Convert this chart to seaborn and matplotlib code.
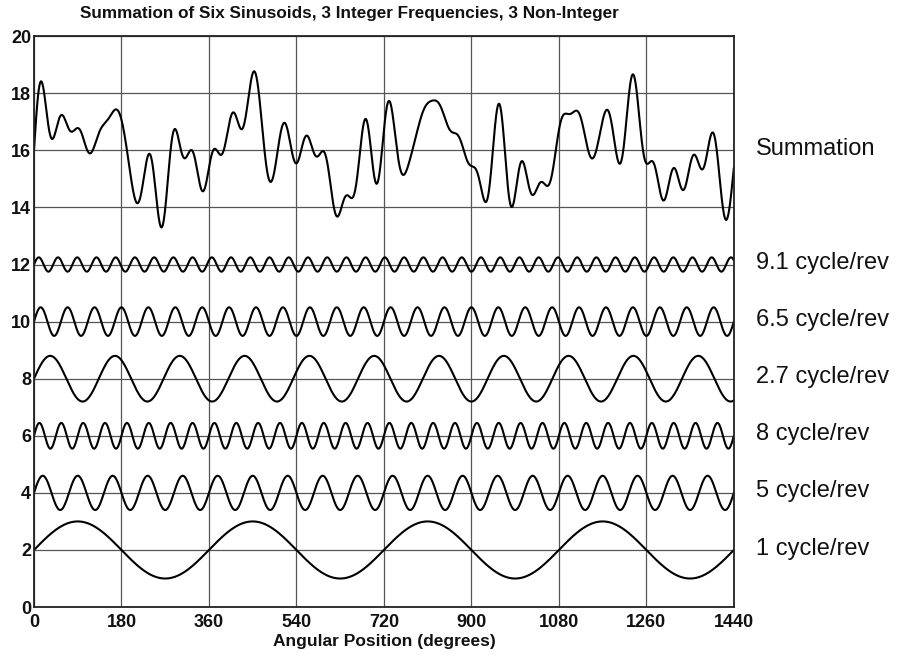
import numpy as np
import pandas as pd
import matplotlib.pyplot as plt
import seaborn as sns

# components (cycles per revolution, amplitude, vertical offset)
labels = ["1 cycle/rev", "5 cycle/rev", "8 cycle/rev",
          "2.7 cycle/rev", "6.5 cycle/rev", "9.1 cycle/rev"]
freqs = [1.0, 5.0, 8.0, 2.7, 6.5, 9.1]
amps = [1.0, 0.6, 0.45, 0.8, 0.5, 0.25]
offsets = [2, 4, 6, 8, 10, 12]
sum_offset = 16
sum_label = "Summation"

x_ticks = list(range(0, 1441, 180))
y_ticks = list(range(0, 21, 2))

title = "Summation of Six Sinusoids, 3 Integer Frequencies, 3 Non-Integer"
xlabel = "Angular Position (degrees)"

# sample the curves
angle = np.linspace(0, 1440, 2881)
frames = []
total = np.zeros_like(angle)
for lab, f, a, off in zip(labels, freqs, amps, offsets):
    wave = a * np.sin(np.deg2rad(f * angle))
    total += wave
    frames.append(pd.DataFrame({"angle": angle, "value": off + wave, "series": lab}))
frames.append(pd.DataFrame({"angle": angle, "value": sum_offset + total, "series": sum_label}))
df = pd.concat(frames, ignore_index=True)

sns.set_theme(style="whitegrid")
plt.rcParams["font.family"] = ["Liberation Sans", "DejaVu Sans"]

fig = plt.figure(figsize=(9.06, 6.57), dpi=100)
ax = fig.add_axes([0.0375, 0.076, 0.7725, 0.869])

sns.lineplot(data=df, x="angle", y="value", units="series", estimator=None,
             color="black", linewidth=1.5, ax=ax, legend=False)

ax.set_xlim(0, 1440)
ax.set_ylim(0, 20)
ax.set_xticks(x_ticks)
ax.set_yticks(y_ticks)
ax.grid(True, color="#555555", linewidth=0.9)
for s in ax.spines.values():
    s.set_color("#222222")
    s.set_linewidth(1.3)
ax.tick_params(axis="both", length=0, labelsize=13, colors="#111111")
ax.tick_params(axis="y", pad=2)
ax.tick_params(axis="x", pad=5)
for t in ax.get_xticklabels() + ax.get_yticklabels():
    t.set_fontweight("bold")

ax.set_xlabel(xlabel, fontsize=12.5, fontweight="bold", labelpad=2, color="#111111")
ax.set_ylabel("")
fig.text(0.386, 0.979, title, fontsize=12.3, fontweight="bold",
         ha="center", va="center", color="#111111")

for lab, off in zip(labels + [sum_label], offsets + [sum_offset]):
    ax.text(1.032, off + 0.05, lab, transform=ax.get_yaxis_transform(),
            fontsize=17, ha="left", va="center", color="#111111")

fig.savefig("out.png", dpi=100, facecolor="white")
plt.close(fig)
